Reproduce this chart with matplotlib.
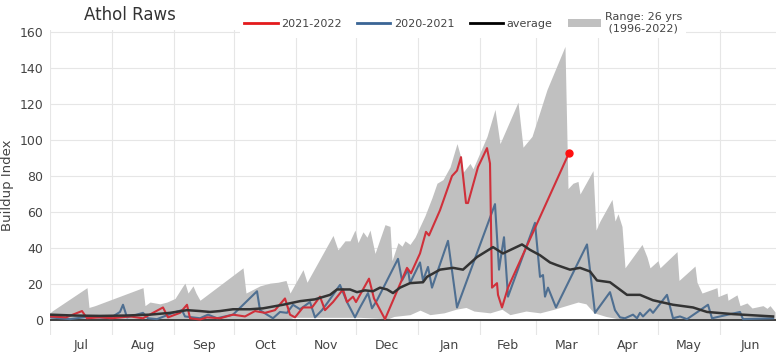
import matplotlib
matplotlib.use("Agg")
from matplotlib import pyplot as plt
from matplotlib.patches import Patch
from matplotlib.lines import Line2D

# days counted from Jul 1
months = ["Jul", "Aug", "Sep", "Oct", "Nov", "Dec", "Jan", "Feb", "Mar", "Apr", "May", "Jun"]
month_start = [0, 31, 62, 92, 123, 153, 184, 215, 243, 274, 304, 335, 365]

# range band, max over the record
hi_days = [0, 1, 18.5, 19.5, 22.5, 46.5, 47.5, 50, 55, 58.5, 62.5, 66.5, 67.5, 69, 71.5, 73, 75,
           96.5, 98, 101.5, 105, 110, 114, 118, 120, 126.5, 128.5, 141.5, 144, 147.5, 150, 152.5,
           154, 156.5, 158.5, 160, 162.5, 167.5, 170, 171, 174, 176, 177.5, 180, 182.5, 187.5,
           191, 193.5, 196.5, 200, 203.5, 205, 206.5, 210, 211.5, 215, 218.5, 222.5, 225, 234,
           236.5, 241, 248.5, 257.5, 259, 261.5, 264, 265, 271.5, 273, 275, 281, 282.5, 284, 286,
           287.5, 296, 298.5, 300, 304, 305, 313.5, 314.5, 322.5, 323.5, 326, 333.5, 334, 338.5,
           339, 343.5, 345, 348.5, 351, 356.5, 358.5, 360, 362.5]
hi_vals = [4, 5, 18, 7, 8, 18, 8, 10, 9, 10, 12, 19, 20.5, 15, 19, 15, 11,
           29, 15, 17, 19, 20.5, 21, 22, 15, 28, 21, 47, 39, 44, 44, 50,
           43, 49, 46, 50, 37, 53, 52, 33, 43, 41, 44, 42, 46, 58,
           68, 76, 78, 85, 98, 92, 82, 87, 84, 93, 102, 117, 98, 121,
           96, 102, 128, 152, 73, 76, 77, 70, 83, 50, 55, 67, 55, 59, 52,
           29, 42, 35, 29, 33, 29, 38, 22, 30, 21, 15, 18, 13, 15,
           11, 14, 8, 9.5, 6.7, 8, 6.5, 8, 4.5]

# range band, min over the record
lo_days = [0, 118, 122, 155, 165, 168, 172, 180, 185, 190, 197, 203, 208, 212, 220, 226, 230,
           238, 245, 252, 258, 264, 268, 272, 278, 285, 290, 363]
lo_vals = [0, 0, 1.5, 1.5, 1, 0.3, 2, 3, 5.5, 3, 4, 6, 7, 5, 4, 6, 3,
           5, 4, 6, 8, 10, 9, 4, 2, 0.5, 0, 0]

# 2021-2022 season (stops mid March)
cur_days = [0, 8, 16, 18.5, 25, 31, 40, 46.5, 56.5, 59, 65, 68.5, 70, 75, 78.5, 85, 91.5, 97.5,
            102.5, 107.5, 112.5, 117.5, 120, 122.5, 126.5, 131, 135, 137.5, 141.5, 146.5, 148.5,
            151.5, 153, 155, 159.5, 162, 167.5, 178.5, 180.5, 185, 188, 189.5, 195, 201, 203.5,
            205.5, 208, 209, 214, 218.5, 220, 221, 223.5, 224, 226, 229, 259.5]
cur_vals = [2, 1.5, 5, 1, 1.5, 1, 2, 1, 7, 1.5, 4, 8.5, 1, 0.3, 1.5, 1, 3, 2,
            5, 4, 5.5, 12, 3, 1.5, 7, 7, 13, 5.5, 10, 17, 10,
            13, 10, 14, 23, 12, 0.5, 29, 26, 37, 49, 47, 61, 80, 83,
            90.5, 65, 65, 85, 95.5, 87, 18, 20.5, 14, 7, 18, 92.8]

# 2020-2021 season
prev_days = [0, 10, 20, 30, 35, 36.5, 38.5, 46.5, 49, 53.5, 61.5, 66, 67.5, 75, 79, 83.5, 91.5,
             103.5, 105, 108.5, 111.5, 115, 118.5, 121.5, 125, 130, 132.5, 136, 139, 145, 148.5,
             152.5, 155, 159, 161, 163.5, 174, 176, 179, 180, 185, 186.5, 189, 191, 199, 203.5,
             222.5, 224.5, 226, 227, 229, 242.5, 245, 246.5, 247.5, 249, 253, 268.5, 272.5, 280,
             282.5, 285, 287.5, 291.5, 293.5, 295, 296.5, 300, 301.5, 305, 308.5, 311.5, 315,
             318.5, 329, 331, 345, 346.5, 361.5]
prev_vals = [1.5, 0.5, 2, 1, 4.5, 8.5, 1.5, 4, 1, 0.5, 4, 5.5, 2, 1, 3, 1, 3,
             16, 5.5, 3, 1, 4.5, 4, 8.5, 6, 10, 1.5, 5.5, 10, 19.5, 10,
             1.5, 7, 15, 6.5, 11, 34, 22, 28, 20.5, 32, 22, 29.5, 18, 44, 7,
             64.4, 28, 39, 46, 13, 54, 24, 25, 13, 18, 7, 42, 4, 15.5,
             5.5, 1.5, 1, 3, 1, 4, 2, 6, 4, 9, 14, 1, 2,
             0.5, 8.5, 1, 4.5, 0.5, 1]

# average over the record
avg_days = [0, 12.5, 25, 37.5, 50, 60, 68.5, 75, 80, 85, 91.5, 100, 106.5, 116.5, 125, 132.5,
            140, 143.5, 150, 153.5, 157.5, 161.5, 165, 168.5, 171.5, 175, 180, 186.5, 188.5,
            195, 201.5, 206.5, 213.5, 221.5, 226.5, 236, 240, 245, 250, 253.5, 260, 265, 270,
            273.5, 280, 288.5, 295, 301.5, 311.5, 321.5, 328.5, 341.5, 361.5]
avg_vals = [3, 2.5, 2.3, 2.5, 3, 4, 5.5, 5, 4.5, 5, 6, 6, 6.5, 8.5, 10.5, 11.5,
            14, 17, 17, 15.5, 16.5, 16, 18, 17, 15, 18, 20.5, 21, 24,
            28, 29, 28, 35, 40.5, 37, 42, 39, 36, 32, 30.5, 28, 29, 27,
            22, 21, 14, 14, 11, 8.5, 7, 4.5, 3.3, 2]

red = "#d0303a"
blue = "#4f6f91"
dark = "#333333"
band = "#c0c0c0"
txt = "#444444"

fig = plt.figure(figsize=(7.8, 3.55), dpi=100)
ax = fig.add_axes([50 / 780, 20 / 355, 726 / 780, 305 / 355])

ax.fill_between(hi_days, hi_vals, 0, color=band, lw=0, zorder=1)
ax.fill_between(lo_days, lo_vals, 0, color="white", lw=0, zorder=1.1)
ax.axhline(0, color=dark, lw=1.3, zorder=1.2)
ax.plot(prev_days, prev_vals, color=blue, lw=1.5, zorder=3)
ax.plot(cur_days, cur_vals, color=red, lw=1.5, zorder=4)
ax.plot(avg_days, avg_vals, color=dark, lw=1.8, zorder=5)
ax.plot(cur_days[-1], cur_vals[-1], "o", color="#ff1010", ms=5, zorder=6)

ax.set_xlim(0, 363)
ax.set_ylim(-8.3, 161.1)
ax.set_yticks(range(0, 161, 20))
ax.set_xticks(month_start[:-1])
ax.set_xticks([(a + b) / 2 for a, b in zip(month_start[:-1], month_start[1:])], minor=True)
ax.set_xticklabels([])
ax.set_xticklabels(months, minor=True)
ax.tick_params(axis="both", which="both", length=0, labelsize=9, labelcolor=txt)
ax.tick_params(axis="y", pad=5)
ax.tick_params(axis="x", which="minor", pad=3)
ax.grid(True, which="major", color="#e6e6e6", lw=0.8, zorder=0)
ax.set_axisbelow(True)
for sp in ax.spines.values():
    sp.set_visible(False)

fig.text(8 / 780, 1 - 185 / 355, "Buildup Index", rotation=90, ha="center", va="center",
         fontsize=9.5, color=txt)
fig.text(130 / 780, 1 - 15 / 355, "Athol Raws", ha="center", va="center",
         fontsize=12, color="#333333")

handles = [Line2D([], [], color="#e31a1c", lw=2),
           Line2D([], [], color="#3a6595", lw=2),
           Line2D([], [], color="black", lw=2),
           Patch(facecolor=band, edgecolor="none")]
labels = ["2021-2022", "2020-2021", "average", "Range: 26 yrs\n (1996-2022)"]
leg = fig.legend(handles, labels, loc="center", bbox_to_anchor=(463 / 780, 1 - 23 / 355),
                 ncol=4, fontsize=8, frameon=True, facecolor="white", edgecolor="none",
                 framealpha=1, fancybox=False, handlelength=3.0, handletextpad=0.3,
                 columnspacing=1.4, borderpad=0.35)
for t in leg.get_texts():
    t.set_color(txt)

fig.savefig("out.png", dpi=100)
